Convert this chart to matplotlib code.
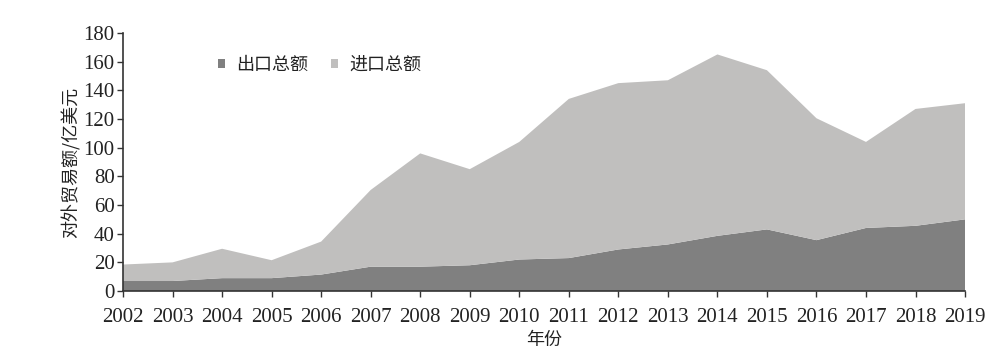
import matplotlib
matplotlib.use("Agg")
import matplotlib.pyplot as plt
import numpy as np

years = list(range(2002, 2020))
export = [7, 7, 9, 9, 11.5, 17, 17, 18, 22, 23, 29, 32.5, 38.5, 43, 35.5, 44, 45.5, 50]
total = [18.5, 20, 29.5, 21.5, 34.5, 70.5, 96, 85, 104, 134, 145, 147, 165, 154, 120.5, 104, 127, 131]
imports = [t - e for t, e in zip(total, export)]
labels = ["出口总额", "进口总额"]
colors = ["#808080", "#c0bfbe"]

serif = ["Liberation Serif", "DejaVu Serif"]
cjk = ["Noto Sans CJK SC", "DejaVu Sans"]

fig = plt.figure(figsize=(10.06, 3.58), dpi=100)
ax = fig.add_axes([0.1223, 0.187, 0.837, 0.721])

ax.stackplot(years, export, imports, colors=colors, labels=labels, linewidth=0)

ax.set_xlim(2002, 2019)
ax.set_ylim(0, 180)
ax.set_xticks(years)
ax.set_yticks(np.arange(0, 181, 20))
for lab in ax.get_xticklabels() + ax.get_yticklabels():
    lab.set_family(serif)
    lab.set_fontsize(15)
    lab.set_color("#222222")

ax.spines["top"].set_visible(False)
ax.spines["right"].set_visible(False)
for s in ("left", "bottom"):
    ax.spines[s].set_color("#333333")
    ax.spines[s].set_linewidth(1.2)
ax.tick_params(direction="out", length=4, width=1, color="#333333")
ax.tick_params(axis="y", pad=2)
ax.tick_params(axis="x", pad=8)

ax.set_ylabel("对外贸易额/亿美元", family=cjk, fontsize=13, color="#222222", labelpad=2)
ax.set_xlabel("年份", family=cjk, fontsize=13, color="#222222", labelpad=3)

leg = ax.legend(loc="upper left", bbox_to_anchor=(0.093, 0.975), ncol=2, frameon=False,
                prop={"family": cjk, "size": 13}, handlelength=0.4, handleheight=0.4,
                handletextpad=0.6, columnspacing=1.3)
for t in leg.get_texts():
    t.set_color("#222222")

fig.savefig("out.png", dpi=100)
